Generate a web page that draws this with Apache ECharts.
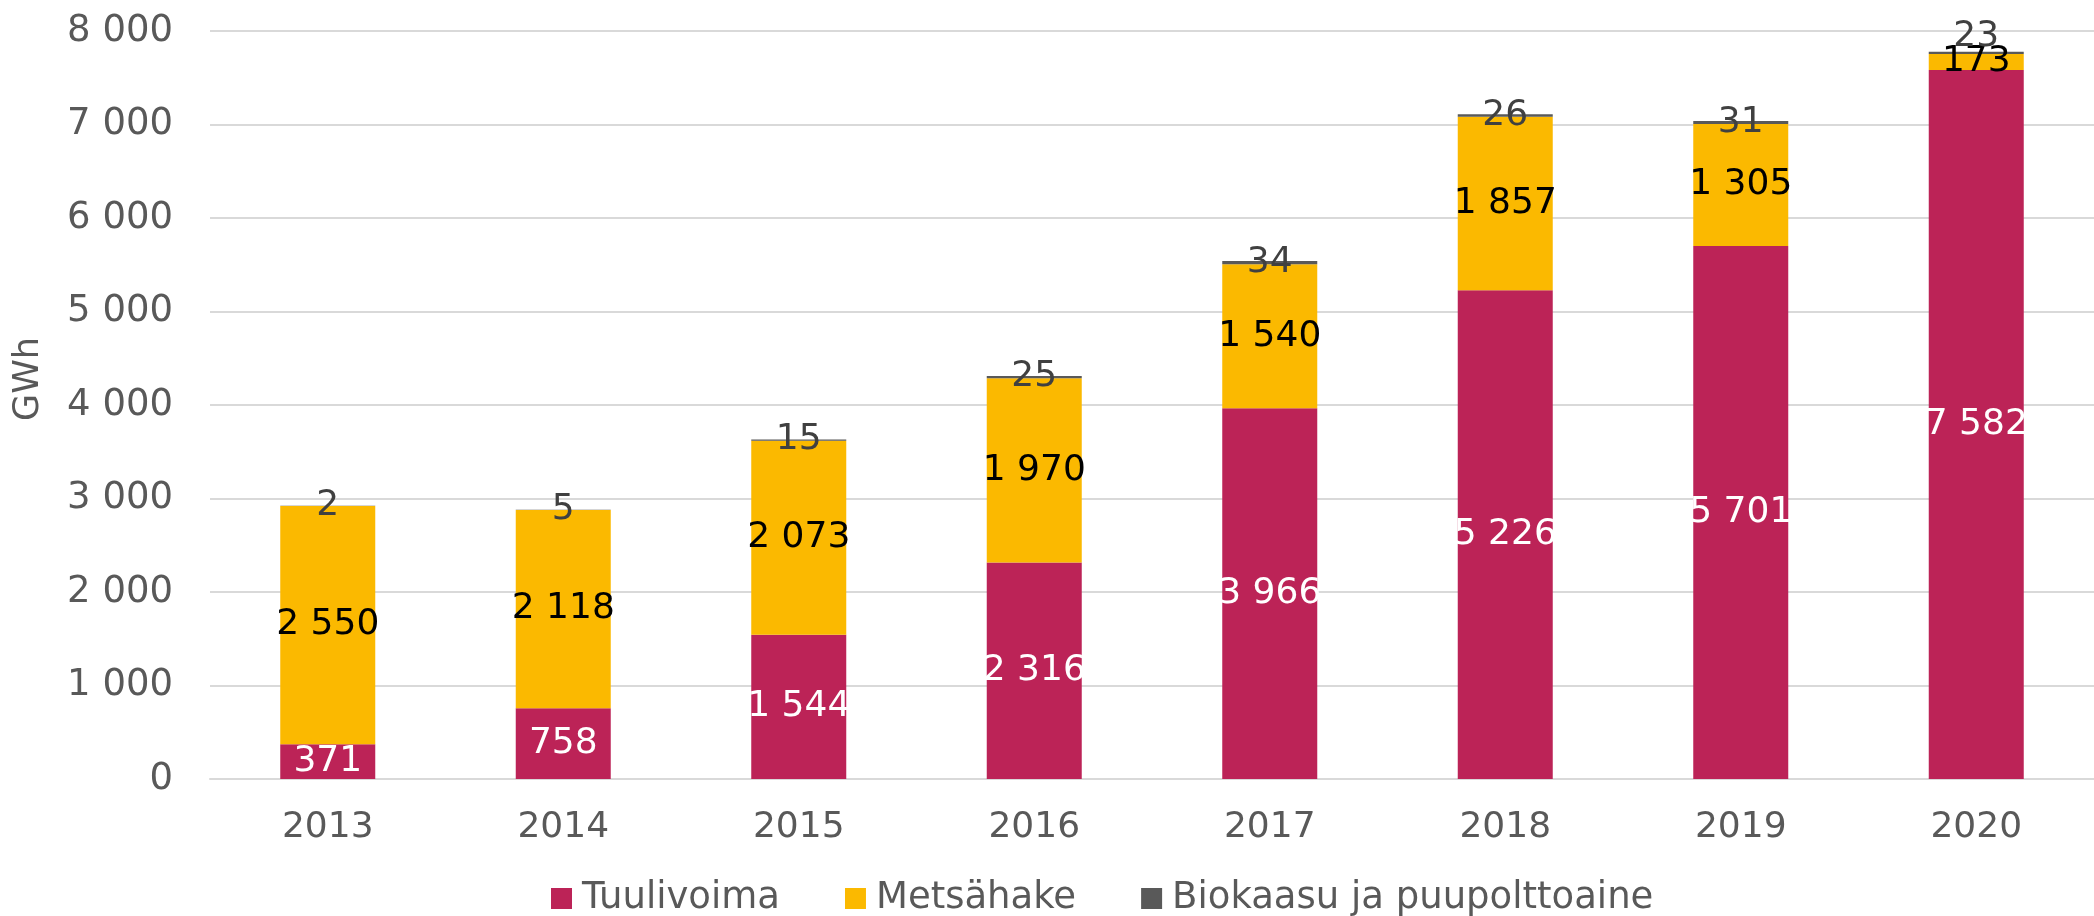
<!DOCTYPE html>
<html>
<head>
<meta charset="utf-8">
<script src="https://cdn.jsdelivr.net/npm/echarts@6/dist/echarts.min.js"></script>
<style>
html,body{margin:0;padding:0;background:#fff;}
#c{width:2094px;height:916px;}
</style>
</head>
<body>
<div id="c"></div>
<script>
const years = ['2013','2014','2015','2016','2017','2018','2019','2020'];
const tuulivoima = [371, 758, 1544, 2316, 3966, 5226, 5701, 7582];
const metsahake = [2550, 2118, 2073, 1970, 1540, 1857, 1305, 173];
const biokaasu = [2, 5, 15, 25, 34, 26, 31, 23];
const seriesNames = ['Tuulivoima', 'Metsähake', 'Biokaasu ja puupolttoaine'];

const FONT = 'DejaVu Sans';
function fmt(v){ return String(v).replace(/\B(?=(\d{3})+(?!\d))/g, ' '); }

// last bio label is moved above the bar (as in the original) to avoid overlapping
const bioData = biokaasu.map((v, i) => i === biokaasu.length - 1
  ? {value: v, label: {position: 'top', distance: -3}} : v);

const chart = echarts.init(document.getElementById('c'));
chart.setOption({
  animation: false,
  textStyle: {fontFamily: FONT},
  grid: {left: 210, right: -17, top: 31, bottom: 137, containLabel: false},
  legend: {
    left: 546, top: 875,
    icon: 'rect', itemWidth: 21, itemHeight: 21, itemGap: 65,
    textStyle: {fontFamily: FONT, fontSize: 37, color: '#595959', padding: [0,0,0,5]},
    data: seriesNames
  },
  graphic: [{
    type: 'text', x: 29, y: 379, rotation: Math.PI/2,
    style: {text: 'GWh', fill: '#595959', font: '35px "DejaVu Sans"', align: 'center', verticalAlign: 'middle'}
  }],
  xAxis: {
    type: 'category', data: years,
    axisLine: {show: true, lineStyle: {color: '#D9D9D9', width: 2}},
    axisTick: {show: false},
    axisLabel: {color: '#595959', fontSize: 36, fontFamily: FONT, margin: 31}
  },
  yAxis: {
    type: 'value', min: 0, max: 8000, interval: 1000,
    axisLine: {show: false}, axisTick: {show: false},
    splitLine: {lineStyle: {color: '#D9D9D9', width: 2}},
    axisLabel: {color: '#595959', fontSize: 37, fontFamily: FONT, margin: 37, formatter: v => fmt(v)}
  },
  series: [
    {name: seriesNames[0], type: 'bar', stack: 's', data: tuulivoima, barWidth: 95,
     itemStyle: {color: '#BC2357'},
     label: {show: true, position: 'inside', color: '#fff', fontSize: 36, fontFamily: FONT, formatter: p => fmt(p.value)}},
    {name: seriesNames[1], type: 'bar', stack: 's', data: metsahake, barWidth: 95,
     itemStyle: {color: '#FBB900'},
     label: {show: true, position: 'inside', color: '#000', fontSize: 36, fontFamily: FONT, formatter: p => fmt(p.value)}},
    {name: seriesNames[2], type: 'bar', stack: 's', data: bioData, barWidth: 95,
     itemStyle: {color: '#595959'},
     label: {show: true, position: 'inside', color: '#404040', fontSize: 36, fontFamily: FONT, formatter: p => fmt(p.value)}}
  ]
});
</script>
</body>
</html>
